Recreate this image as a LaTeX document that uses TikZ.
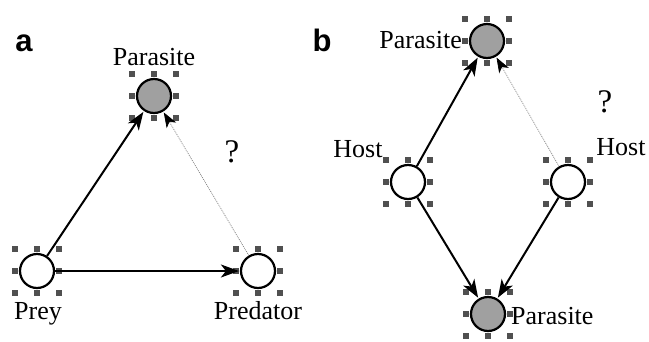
\documentclass[tikz,border=0pt]{standalone}
\usepackage{fontspec}
\setmainfont{Liberation Serif}
\setsansfont{Liberation Sans}
\usetikzlibrary{positioning,arrows.meta}
\definecolor{paragray}{RGB}{160,160,160}
\definecolor{handlegray}{RGB}{80,80,80}
\tikzset{
  species/.style={circle, draw=black, line width=2.2pt, minimum size=34pt, inner sep=0pt, fill=white},
  parasite/.style={species, fill=paragray},
  handle/.style={rectangle, fill=handlegray, minimum size=6pt, inner sep=0pt},
  tag/.style={font=\fontsize{26}{30}\selectfont, inner sep=0pt, anchor=base},
  query/.style={font=\fontsize{33}{36}\selectfont, inner sep=0pt, anchor=base},
  panel/.style={font=\sffamily\bfseries\fontsize{31}{34}\selectfont, inner sep=0pt, anchor=base},
}
% eight selection handles round a node
\newcommand\handles[1]{%
  \foreach \hx/\hy in {-22/-22,0/-22,22/-22,-22/0,22/0,-22/22,0/22,22/22}
    \node[handle] at ([shift={(\hx pt,\hy pt)}]#1.center) {};}

\begin{document}
\begin{tikzpicture}[
        x=1pt, y=-1pt,
        link/.style={-{Stealth[length=18pt,width=13pt,inset=5pt]}, line width=2pt, shorten >=1pt},
        guess/.style={-{Stealth[length=15pt,width=11pt,inset=4pt,color=black]}, line width=0.7pt,
                      draw=gray, dash pattern=on 1pt off 1pt, shorten >=1pt},
      ]
      \useasboundingbox (0,0) rectangle (649,341);

      % panel a
      \node (ParA) [parasite] at (154,96) {};
      \node (Prey) [species] at (37,271) {};
      \node (Pred) [species] at (258,271) {};
      \handles{ParA}
      \handles{Prey}
      \handles{Pred}
      \node (labA) [panel] at (24,51) {a};
      \node (labParA) [tag] at (154,65) {Parasite};
      \node (labPrey) [tag] at (38,319) {Prey};
      \node (labPred) [tag] at (258,319) {Predator};
      \node (qA) [query] at (232,162) {?};
      \draw [link] (Prey) -- (ParA);
      \draw [link] (Prey) -- (Pred);
      \draw [guess] (Pred) -- (ParA);

      % panel b
      \node (ParTop) [parasite] at (487,41) {};
      \node (HostL) [species] at (408,182) {};
      \node (HostR) [species] at (568,182) {};
      \node (ParBot) [parasite] at (488,314) {};
      \handles{ParTop}
      \handles{HostL}
      \handles{HostR}
      \handles{ParBot}
      \node (labB) [panel] at (322,51) {b};
      \node (labParTop) [tag, anchor=base east] at (462,48) {Parasite};
      \node (labHostL) [tag] at (358,157) {Host};
      \node (labHostR) [tag] at (621,155) {Host};
      \node (labParBot) [tag, anchor=base west] at (511,324) {Parasite};
      \node (qB) [query] at (605,112) {?};
      \draw [link] (HostL) -- (ParTop);
      \draw [guess] (HostR) -- (ParTop);
      \draw [link] (HostL) -- (ParBot);
      \draw [link] (HostR) -- (ParBot);
\end{tikzpicture}
\end{document}
